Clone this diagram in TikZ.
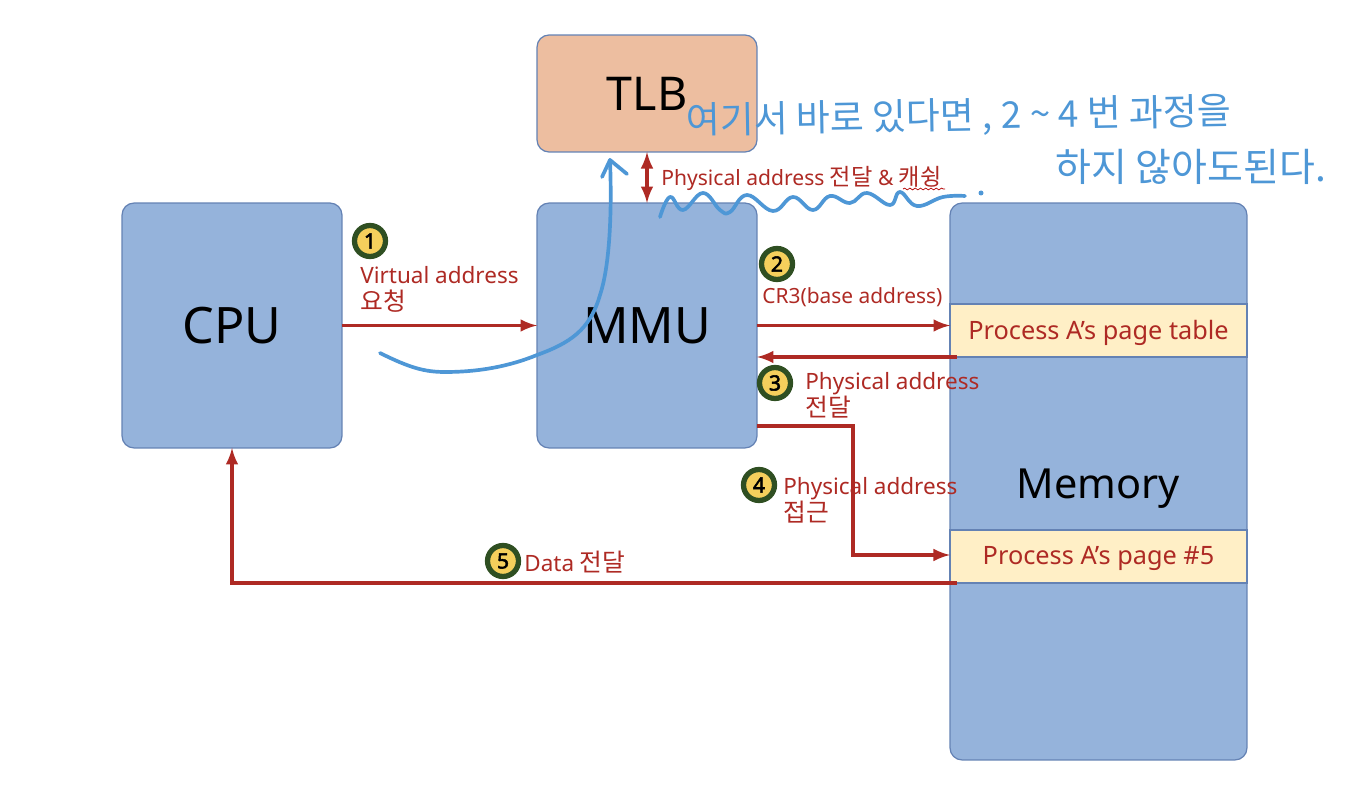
\documentclass[tikz,border=0pt]{standalone}
\usepackage{fontspec}
\setmainfont{Noto Sans}
\newfontfamily\krfont[Scale=1.1]{Noto Sans CJK KR}
\newfontfamily\penfont{Noto Sans CJK KR}
\newfontfamily\badgefont[FakeBold=2.5]{Noto Sans}
\usetikzlibrary{arrows}
\usetikzlibrary{decorations.pathmorphing}
\definecolor{boxblue}{HTML}{95B3DB}
\definecolor{boxline}{HTML}{6482B4}
\definecolor{tlbfill}{HTML}{EDBEA0}
\definecolor{pagefill}{HTML}{FFEFC6}
\definecolor{linkred}{HTML}{AE2A24}
\definecolor{penblue}{HTML}{4E97D6}
\definecolor{badgegreen}{HTML}{2F4F22}
\definecolor{badgeyellow}{HTML}{F5CF5C}
\tikzset{
	unitbox/.style={draw=boxline, line width=0.7pt, fill=boxblue, rounded corners=0.24cm, outer sep=0pt, inner sep=0pt, font=\fontsize{28.6}{34}\selectfont},
	pagebox/.style={draw=boxline, line width=0.7pt, fill=pagefill, outer sep=0pt, inner sep=0pt, minimum width=5.94cm, minimum height=1.06cm, text=linkred, font=\fontsize{14.4}{16}\selectfont},
	badge/.style={circle, draw=badgegreen, line width=3pt, fill=badgeyellow, minimum size=0.62cm, inner sep=0pt, outer sep=0pt, font=\badgefont\fontsize{12}{12}\selectfont},
	linklabel/.style={text=linkred, anchor=west, inner sep=0pt, align=left, font=\fontsize{12.8}{15.4}\selectfont},
	link/.style={draw=linkred, line width=2.2pt, -latex},
	penline/.style={draw=penblue, line width=2.1pt, line cap=round, line join=round},
	pentext/.style={text=penblue, inner sep=0pt, font=\penfont\fontsize{21}{24}\selectfont}
}

\begin{document}
\begin{tikzpicture}[x=0.02cm, y=-0.02cm]
	\useasboundingbox (0,0) rectangle (1360,804);
	\node[unitbox, minimum width=4.4cm, minimum height=4.9cm] (cpu) at (232,325.5) {CPU};
	\node[unitbox, minimum width=4.4cm, minimum height=4.9cm] (mmu) at (647,325.5) {MMU};
	\node[unitbox, minimum width=4.4cm, minimum height=2.34cm, fill=tlbfill, font=\fontsize{26.5}{30}\selectfont] (tlb) at (647,93.5) {TLB};
	\node[unitbox, minimum width=5.94cm, minimum height=11.14cm] (memory) at (1098.5,481.5) {};
	\node[font=\fontsize{23.6}{28}\selectfont] (memorytext) at (1098,489) {Memory};
	\node[pagebox, text depth=0.03cm] (table) at (1098.5,330.5) {Process A’s page table};
	\node[pagebox, text depth=0.03cm] (page) at (1098.5,556.5) {Process A’s page \#5};

	\draw[link] (cpu.east) -- (mmu.west);
	\draw[link] (mmu.east) -- (mmu.east -| table.west);
	\coordinate (tableout) at (957,357);
	\draw[link] (tableout) -- (tableout -| mmu.east);
	\coordinate (mmuout) at (757,426);
	\coordinate (pagein) at (950,555);
	\draw[link] (mmuout) -- (853,426) -- (853,555) -- (pagein);
	\coordinate (pageout) at (957,583);
	\draw[link] (pageout) -- (pageout -| cpu.south) -- (cpu.south);
	\draw[draw=linkred, line width=2.2pt, latex-latex] (tlb.south) -- (mmu.north);

	\node[badge] (one) at (370,241) {1};
	\node[badge] (two) at (777,264) {2};
	\node[badge] (three) at (775,383) {3};
	\node[badge] (four) at (759,485) {4};
	\node[badge] (five) at (503,561) {5};

	\node[linklabel] (virtual) at (360,289) {Virtual address\\{\krfont 요청}};
	\node[linklabel, font=\fontsize{11.9}{15}\selectfont] (base) at (762,297) {CR3(base address)};
	\node[linklabel] (found) at (805,395) {Physical address\\{\krfont 전달}};
	\node[linklabel] (access) at (783,500) {Physical address\\{\krfont 접근}};
	\node[linklabel, font=\fontsize{12.8}{15}\selectfont] (data) at (524,562) {Data {\krfont 전달}};
	\node[linklabel, font=\fontsize{12}{15}\selectfont] (cache) at (661,178) {Physical address {\krfont 전달} \& {\krfont 캐슁}};
	\draw[draw=red!70!black, line width=0.4pt, decorate, decoration={snake, amplitude=0.5pt, segment length=3pt}] (903,189) -- (945,189);

	\node[pentext, anchor=west, rotate=1] (handone) at (686,122) {여기서 바로 있다면 , 2 \textasciitilde{} 4 번 과정을};
	\node[pentext, anchor=west, font=\penfont\fontsize{22.2}{24}\selectfont] (handtwo) at (1055,167) {하지 않아도된다.};
	\draw[penline] (380,353) .. controls (410,368) and (425,372) .. (445,372) .. controls (480,372) and (510,366) .. (537,355) .. controls (570,343) and (590,330) .. (600,295) .. controls (610,265) and (612,210) .. (610,160);
	\draw[penline] (602,177) -- (610,160) -- (627,174);
	\draw[penline] plot[smooth, tension=0.7] coordinates {(660,217) (670,197) (683,210) (703,193) (720,210) (730,212) (747,195) (773,211) (793,197) (813,210) (830,196) (850,203) (867,193) (890,205) (900,192) (917,206) (943,197) (965,196)};
	\fill[penblue] (981,193) circle (2.5);
\end{tikzpicture}
\end{document}
